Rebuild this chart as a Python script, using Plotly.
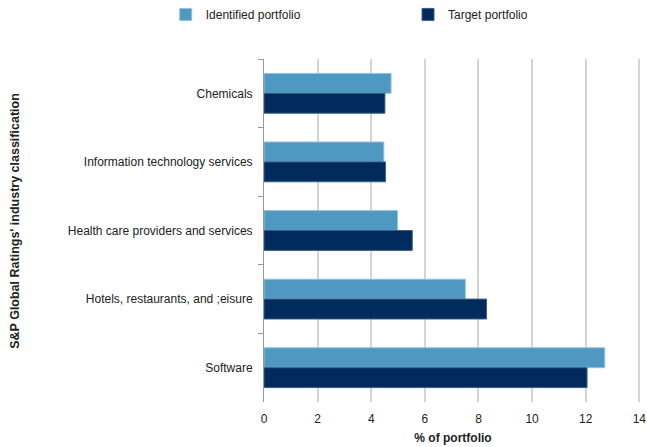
import plotly.graph_objects as go

# Industry classifications and portfolio shares (%)
industries = [
    "Chemicals",
    "Information technology services",
    "Health care providers and services",
    "Hotels, restaurants, and ;eisure",
    "Software",
]
identified_portfolio = [4.74, 4.47, 4.98, 7.51, 12.71]
target_portfolio = [4.51, 4.53, 5.53, 8.30, 12.05]
x_ticks = [0, 2, 4, 6, 8, 10, 12, 14]

LIGHT = "#4F98C2"
DARK = "#002B5C"
FONT = "Liberation Sans, Arial, sans-serif"
TEXT = "#222222"

fig = go.Figure()
fig.add_trace(go.Bar(
    y=industries, x=identified_portfolio, orientation="h",
    name="Identified portfolio", legend="legend",
    marker=dict(color=LIGHT, line=dict(color="#8EC3E0", width=1)),
))
fig.add_trace(go.Bar(
    y=industries, x=target_portfolio, orientation="h",
    name="Target portfolio", legend="legend2",
    marker=dict(color=DARK, line=dict(color="#3B5F86", width=1)),
))

legend_style = dict(
    orientation="h", yanchor="middle", y=1.13, xanchor="left",
    font=dict(size=12, color=TEXT, family=FONT), bgcolor="rgba(0,0,0,0)",
)

# plot area: x from 264 to 642 px; the axis runs slightly past 14 so its gridline shows
fig.update_layout(
    width=647, height=447,
    margin=dict(l=264, r=5, t=59, b=45, autoexpand=False),
    paper_bgcolor="white", plot_bgcolor="white",
    font=dict(family=FONT, size=12, color=TEXT),
    barmode="group", bargap=0.42, bargroupgap=0,
    showlegend=True,
    legend=dict(x=-0.26, **legend_style),
    legend2=dict(x=0.381, **legend_style),
    xaxis=dict(
        range=[0, 14.1], tickvals=x_ticks, ticktext=[str(v) for v in x_ticks],
        showgrid=True, gridcolor="#D4D4D4", gridwidth=1.5,
        zeroline=False, showline=False,
        ticks="outside", ticklen=6, tickcolor="rgba(0,0,0,0)",
        tickfont=dict(size=12, color=TEXT),
        title=dict(text="<b>% of portfolio</b>", standoff=8,
                   font=dict(size=12, color=TEXT)),
        automargin=False,
    ),
    yaxis=dict(
        autorange="reversed", showgrid=False,
        showline=True, linecolor="#999999", linewidth=1,
        ticks="outside", tickson="boundaries", ticklen=5, tickcolor="#999999",
        ticklabelstandoff=8,
        tickfont=dict(size=12, color=TEXT),
        automargin=False,
    ),
    annotations=[dict(
        text="<b>S&P Global Ratings' industry classification</b>",
        xref="paper", yref="paper", x=-0.659, y=0.528,
        textangle=-90, showarrow=False, xanchor="center", yanchor="middle",
        font=dict(size=12.5, color=TEXT, family=FONT),
    )],
)

fig.write_html("out.html")
